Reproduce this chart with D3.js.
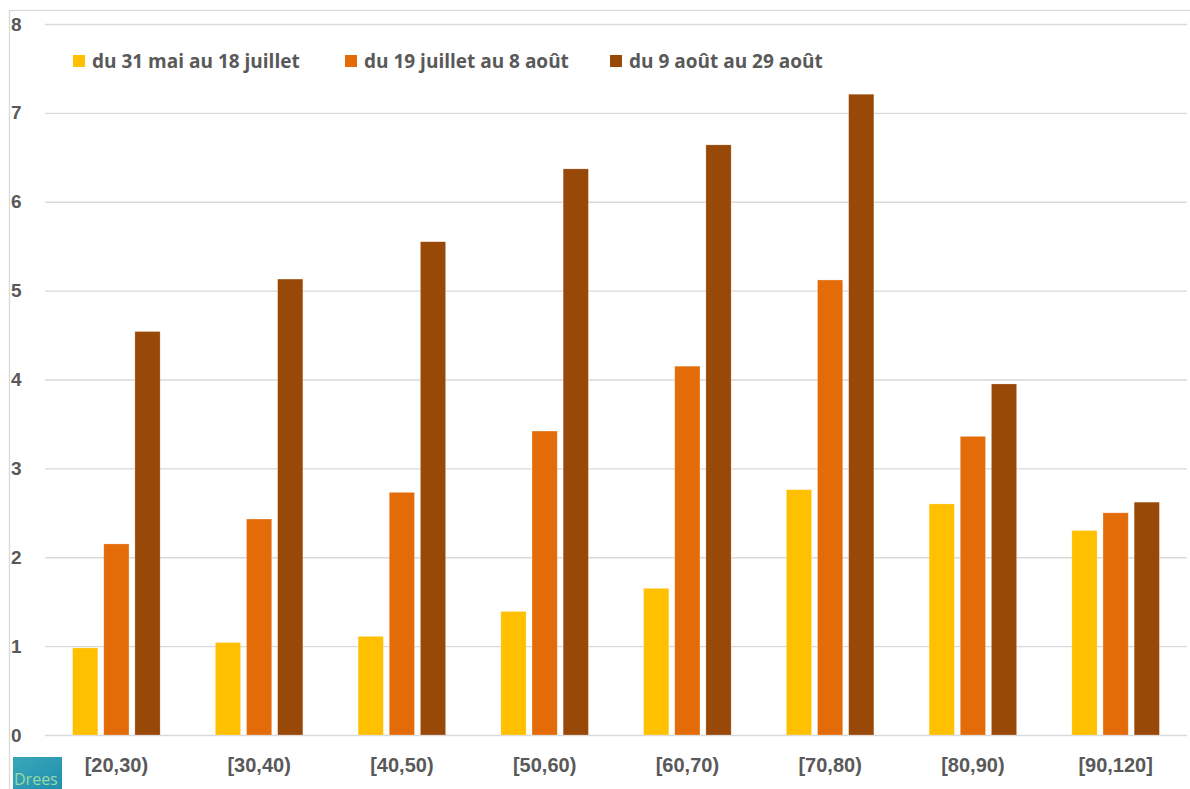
<!DOCTYPE html>
<html>
<head>
<meta charset="utf-8">
<script src="https://cdn.jsdelivr.net/npm/d3@7"></script>
<style>
  body { margin: 0; background: #fff; }
  svg { display: block; font-family: "Open Sans", sans-serif; }
</style>
</head>
<body>
<div id="chart"></div>
<script>
const categories = ["[20,30)", "[30,40)", "[40,50)", "[50,60)", "[60,70)", "[70,80)", "[80,90)", "[90,120]"];
const seriesNames = ["du 31 mai au 18 juillet", "du 19 juillet au 8 août", "du 9 août au 29 août"];
const period1 = [0.98, 1.04, 1.11, 1.39, 1.65, 2.76, 2.60, 2.30];
const period2 = [2.15, 2.43, 2.73, 3.42, 4.15, 5.12, 3.36, 2.50];
const period3 = [4.54, 5.13, 5.55, 6.37, 6.64, 7.21, 3.95, 2.62];
const yTicks = [0, 1, 2, 3, 4, 5, 6, 7, 8];
const colors = ["#FFC000", "#E36C09", "#984807"];

const seriesValues = [period1, period2, period3];
const rows = categories.map((c, i) => ({
    cat: c,
    vals: seriesNames.map((s, j) => ({ key: s, value: seriesValues[j][i] }))
}));

const width = 1190, height = 789;
const plotLeft = 45, plotRight = 1187, plotTop = 24, plotBottom = 735;

const svg = d3.select("#chart").append("svg")
    .attr("width", width)
    .attr("height", height);

// frame
svg.append("rect")
    .attr("x", 9.5).attr("y", 10.5)
    .attr("width", width).attr("height", height)
    .attr("fill", "none")
    .attr("stroke", "#d9d9d9")
    .attr("stroke-width", 1.3);

const x0 = d3.scaleBand()
    .domain(categories)
    .range([plotLeft, plotRight])
    .paddingInner(0.387)
    .paddingOuter(0.1935);

const x1 = d3.scaleBand()
    .domain(seriesNames)
    .range([0, x0.bandwidth()])
    .paddingInner(0.19);

const y = d3.scaleLinear().domain([0, 8]).range([plotBottom, plotTop]);

const color = d3.scaleOrdinal().domain(seriesNames).range(colors);

// y axis + gridlines
const yAxis = svg.append("g")
    .attr("transform", `translate(${plotLeft},0)`)
    .call(d3.axisLeft(y).tickValues(yTicks).tickSize(-(plotRight - plotLeft)).tickFormat(d3.format("d")));
yAxis.select(".domain").remove();
yAxis.selectAll(".tick line")
    .attr("stroke", "#d9d9d9")
    .attr("stroke-width", 1.3);
yAxis.selectAll(".tick text")
    .attr("x", -34)
    .attr("text-anchor", "start")
    .attr("fill", "#595959")
    .style("font-size", "19px")
    .style("font-weight", "bold");

// bars
svg.append("g")
    .selectAll("g")
    .data(rows)
    .join("g")
    .attr("transform", d => `translate(${x0(d.cat)},0)`)
    .selectAll("rect")
    .data(d => d.vals)
    .join("rect")
    .attr("x", d => x1(d.key))
    .attr("y", d => y(d.value))
    .attr("width", x1.bandwidth())
    .attr("height", d => y(0) - y(d.value))
    .attr("fill", d => color(d.key))
    .attr("stroke", "#ffffff")
    .attr("stroke-opacity", 0.4)
    .attr("stroke-width", 0.6);

// x axis
const xAxis = svg.append("g")
    .attr("transform", `translate(0,${plotBottom})`)
    .call(d3.axisBottom(x0).tickSize(0).tickPadding(23));
xAxis.select(".domain").remove();
xAxis.selectAll(".tick text")
    .attr("fill", "#595959")
    .style("font-size", "20px")
    .style("font-weight", "600");

// legend
const legendX = [73, 345, 610];
const legend = svg.append("g")
    .selectAll("g")
    .data(seriesNames)
    .join("g")
    .attr("transform", (d, i) => `translate(${legendX[i]},55)`);
legend.append("rect")
    .attr("width", 12).attr("height", 12)
    .attr("fill", d => color(d));
legend.append("text")
    .attr("x", 19).attr("y", 6)
    .attr("dy", "0.36em")
    .attr("fill", "#595959")
    .style("font-size", "19px")
    .style("font-weight", "bold")
    .text(d => d);

// Drees logo
const defs = svg.append("defs");
const grad = defs.append("linearGradient")
    .attr("id", "logoGrad")
    .attr("x1", "0").attr("y1", "0").attr("x2", "1").attr("y2", "1");
grad.append("stop").attr("offset", "0%").attr("stop-color", "#3aa7b8");
grad.append("stop").attr("offset", "100%").attr("stop-color", "#1f8fae");
svg.append("rect")
    .attr("x", 13).attr("y", 757)
    .attr("width", 49).attr("height", 32)
    .attr("fill", "url(#logoGrad)");
svg.append("text")
    .attr("x", 14).attr("y", 785)
    .attr("fill", "#9ad8a6")
    .style("font-size", "16px")
    .text("Drees");
</script>
</body>
</html>
